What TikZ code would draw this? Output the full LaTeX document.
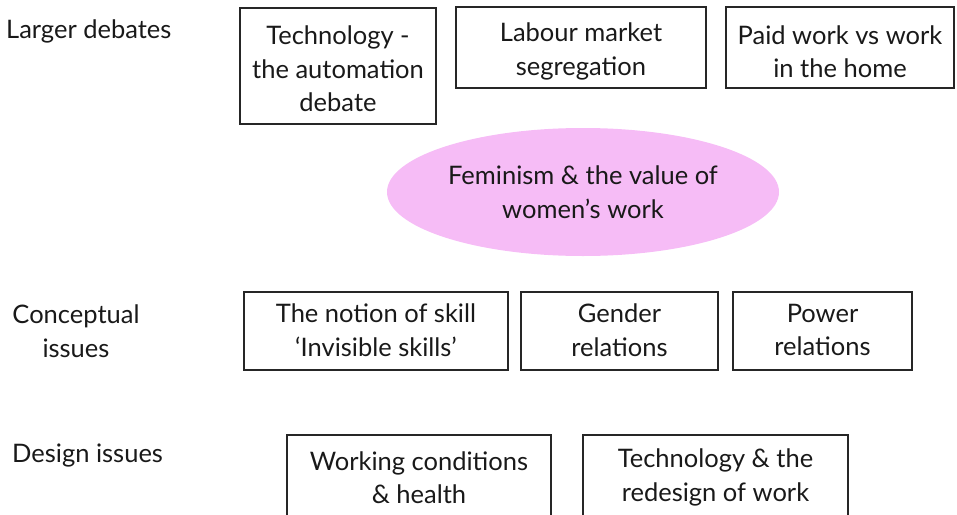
\documentclass[tikz,border=0pt]{standalone}
\usepackage{fontspec}
\setmainfont{Lato}
\usetikzlibrary{shapes.geometric}
\definecolor{pinkfill}{RGB}{246,188,246}
\tikzset{
  txt/.style={font=\fontsize{25.5}{33.5}\selectfont, text=black!90, align=center, inner sep=0pt},
  boxnode/.style={draw=black!85, line width=1.8pt, rectangle, inner sep=0pt},
}
\begin{document}
\begin{tikzpicture}[x=1pt,y=-1pt]
\useasboundingbox (0,0) rectangle (957,514);
% top row
\node[boxnode, minimum width=196pt, minimum height=116pt] (b1) at (338,66) {};
\node[txt] (b1t) at ([yshift=-3pt]b1.center) {Technology -\\the automation\\debate};
\node[boxnode, minimum width=250pt, minimum height=81pt] (b2) at (581,47.5) {};
\node[txt] (b2t) at ([yshift=-4pt]b2.center) {Labour market\\segregation};
\node[boxnode, minimum width=228pt, minimum height=81pt] (b3) at (840,47.5) {};
\node[txt] (b3t) at ([yshift=-4pt]b3.center) {Paid work vs work\\in the home};
% ellipse
\node[txt, ellipse, fill=pinkfill, minimum width=392pt, minimum height=128pt] (fem) at (583,192) {Feminism \& the value of\\women’s work};
% conceptual row
\node[boxnode, minimum width=264pt, minimum height=78pt] (c1) at (376,331) {};
\node[txt] (c1t) at ([yshift=1pt]c1.center) {The notion of skill\\‘Invisible skills’};
\node[boxnode, minimum width=197pt, minimum height=78pt] (c2) at (619.5,331) {};
\node[txt] (c2t) at ([yshift=1pt]c2.center) {Gender\\relations};
\node[boxnode, minimum width=179pt, minimum height=78pt] (c3) at (822.5,331) {};
\node[txt] (c3t) at ([yshift=1pt]c3.center) {Power\\relations};
% design row
\node[boxnode, minimum width=264pt, minimum height=85pt] (d1) at (419,477.5) {};
\node[txt] (d1t) at (d1.center) {Working conditions\\\& health};
\node[boxnode, minimum width=265pt, minimum height=85pt] (d2) at (715.5,477.5) {};
\node[txt] (d2t) at (d2.center) {Technology \& the\\redesign of work};
% row labels
\node[txt, anchor=west] (l1) at (6,31) {Larger debates};
\node[txt] (l2) at (76,331) {Conceptual\\issues};
\node[txt, anchor=west] (l3) at (12,456) {Design issues};
\end{tikzpicture}
\end{document}
